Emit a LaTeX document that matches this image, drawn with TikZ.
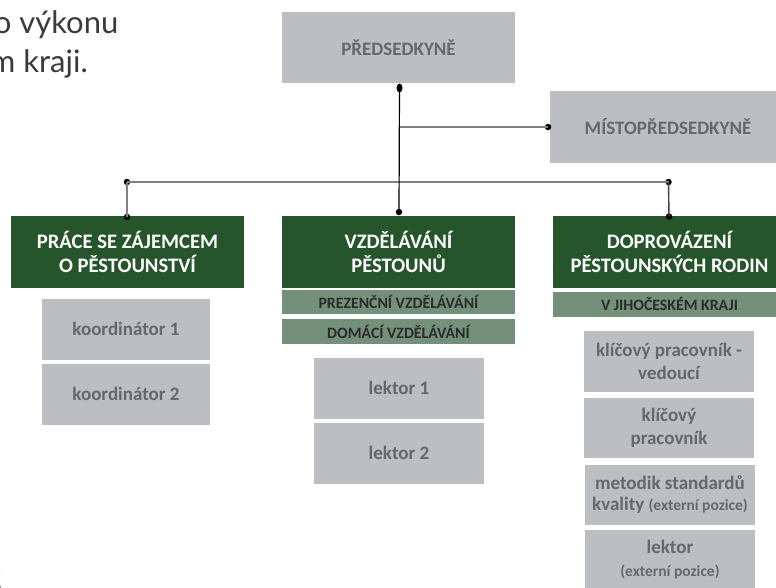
\documentclass[tikz,border=0pt]{standalone}
\usepackage{fontspec}
\setmainfont{Carlito}
\newfontfamily\leadfont{Lato}
\usetikzlibrary{shapes.geometric}
\definecolor{boxgray}{HTML}{BCBEC1}
\definecolor{txtgray}{HTML}{666769}
\definecolor{dkgreen}{HTML}{26552B}
\definecolor{ltgreen}{HTML}{74907A}
\definecolor{striptxt}{HTML}{2B2B2B}
\definecolor{leadgray}{HTML}{3A3A3A}
\definecolor{linegray}{HTML}{808080}
\tikzset{
  lead/.style={inner sep=0pt, text=leadgray, font=\leadfont\fontsize{31}{38}\selectfont},
  graybox/.style={fill=boxgray, text=txtgray, align=center, inner sep=0pt,
    font=\bfseries\fontsize{19}{23}\selectfont},
  greenbox/.style={fill=dkgreen, text=white, align=center, inner sep=0pt,
    minimum width=233pt, minimum height=72pt, font=\bfseries\fontsize{20.6}{24.5}\selectfont},
  stripbox/.style={fill=ltgreen, text=striptxt, align=center, inner sep=0pt,
    minimum width=233pt, font=\bfseries\fontsize{15.8}{18}\selectfont},
  staff/.style={graybox, minimum width=170pt, minimum height=61pt},
  dotc/.style={circle, fill=black, inner sep=0pt, minimum size=6.5pt},
  dotv/.style={ellipse, fill=black, inner sep=0pt, minimum width=6pt, minimum height=9pt},
  blkline/.style={draw=black, line width=1.2pt},
  gryline/.style={draw=linegray, line width=1.6pt},
  dkline/.style={draw=black!75, line width=1.4pt}
}
\newcommand{\smalltxt}[1]{{\fontsize{15.5}{18}\selectfont #1}}
\begin{document}
\begin{tikzpicture}[x=1pt,y=-1pt]
\useasboundingbox (0,0) rectangle (776,587);

% lead text (cropped at the left edge, as in the source)
\node[lead, anchor=base east] (t1) at (118.5,33) {o výkonu};
\node[lead, anchor=base east] (t2) at (88,72) {m kraji.};
\node[lead, anchor=base east] (t3) at (2.5,588) {2};

% top boxes
\node[graybox, minimum width=233pt, minimum height=71pt] (pres) at (398.5,47.5) {PŘEDSEDKYNĚ};
\node[graybox, minimum width=236pt, minimum height=72pt] (mist) at (668,127) {MÍSTOPŘEDSEDKYNĚ};

% green heads
\node[greenbox] (prace) at (127.5,252) {PRÁCE SE ZÁJEMCEM\\O PĚSTOUNSTVÍ};
\node[greenbox] (vzd) at (398.5,252) {VZDĚLÁVÁNÍ\\PĚSTOUNŮ};
\node[greenbox] (dopr) at (669.5,252) {DOPROVÁZENÍ\\PĚSTOUNSKÝCH RODIN};

% strips
\node[stripbox, minimum height=24pt] (s1) at (398.5,302.4) {PREZENČNÍ VZDĚLÁVÁNÍ};
\node[stripbox, minimum height=25pt] (s2) at (398.5,331.5) {DOMÁCÍ VZDĚLÁVÁNÍ};
\node[stripbox, minimum height=25pt] (s3) at (669.5,304.2) {V JIHOČESKÉM KRAJI};

% staff
\node[staff, minimum width=168pt] (k1) at (126,329.2) {koordinátor 1};
\node[staff, minimum width=168pt] (k2) at (126,394.3) {koordinátor 2};
\node[staff] (l1) at (399,388) {lektor 1};
\node[staff] (l2) at (399,453.3) {lektor 2};
\node[staff] (kv) at (669,361.3) {klíčový pracovník -\\vedoucí};
\node[staff, minimum height=60pt] (kp) at (669,428.3) {klíčový\\pracovník};
\node[staff, minimum height=60pt, font=\bfseries\fontsize{19}{21}\selectfont] (met) at (670,495) {metodik standardů\\kvality \smalltxt{(externí pozice)}};
\node[staff, minimum height=60pt] (lek) at (670,560) {lektor\\\smalltxt{(externí pozice)}};

% junction dots
\node[dotv] (dp) at (399.5,88) {};
\node[dotc] (dv) at (399,212) {};
\node[dotc] (dm) at (548,127) {};
\coordinate (jm) at (399.5,127);
\node[dotc] (bl) at (127,182) {};
\node[dotc] (br) at (668.5,182) {};
\node[dotc] (dpr) at (127,217) {};
\node[dotc] (ddo) at (669,216.5) {};

% connectors
\draw[gryline] (bl.center) -- (br.center);
\draw[gryline] (jm) -- (dm.center);
\draw[gryline] (bl.center) -- (dpr.center);
\draw[dkline] (br.center) -- (ddo.center);
\draw[blkline] (dp.center) -- (dv.center);
\end{tikzpicture}
\end{document}
